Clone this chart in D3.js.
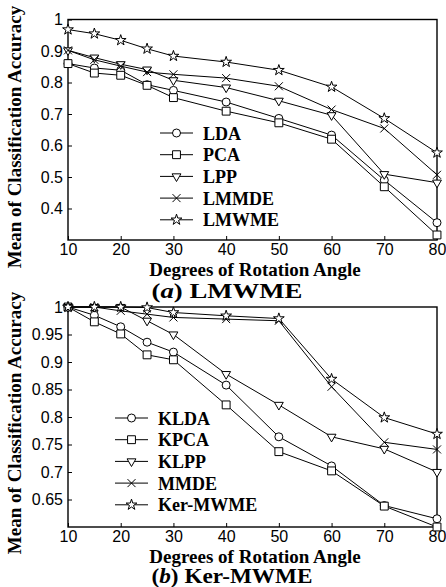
<!DOCTYPE html>
<html>
<head>
<meta charset="utf-8">
<script src="https://cdn.jsdelivr.net/npm/d3@7/dist/d3.min.js"></script>
<style>
  body { margin: 0; background: #fff; }
  svg { display: block; }
</style>
</head>
<body>
<svg width="446" height="587"></svg>
<script>
// rotation angles shared by both panels
var angles = [10, 15, 20, 25, 30, 40, 50, 60, 70, 80];
var xTicks = [10, 20, 30, 40, 50, 60, 70, 80];

// panel (a)
var namesA = ['LDA', 'PCA', 'LPP', 'LMMDE', 'LMWME'];
var lda   = [0.860, 0.846, 0.839, 0.793, 0.775, 0.738, 0.686, 0.633, 0.490, 0.355];
var pca   = [0.860, 0.830, 0.823, 0.791, 0.752, 0.709, 0.672, 0.620, 0.469, 0.316];
var lpp   = [0.902, 0.879, 0.858, 0.841, 0.807, 0.784, 0.742, 0.696, 0.509, 0.482];
var lmmde = [0.902, 0.872, 0.852, 0.833, 0.826, 0.814, 0.788, 0.714, 0.654, 0.507];
var lmwme = [0.968, 0.955, 0.934, 0.907, 0.884, 0.865, 0.839, 0.786, 0.686, 0.577];
var yTicksA = [0.4, 0.5, 0.6, 0.7, 0.8, 0.9, 1];
var yLabelsA = ['0.4', '0.5', '0.6', '0.7', '0.8', '0.9', '1'];

// panel (b)
var namesB = ['KLDA', 'KPCA', 'KLPP', 'MMDE', 'Ker-MWME'];
var klda    = [1.000, 0.985, 0.964, 0.936, 0.918, 0.858, 0.764, 0.711, 0.639, 0.615];
var kpca    = [1.000, 0.973, 0.951, 0.913, 0.904, 0.822, 0.737, 0.702, 0.638, 0.600];
var klpp    = [1.000, 1.000, 1.000, 0.975, 0.950, 0.878, 0.822, 0.764, 0.742, 0.700];
var mmde    = [1.000, 1.000, 0.993, 0.987, 0.981, 0.978, 0.975, 0.855, 0.754, 0.741];
var kermwme = [1.000, 1.000, 1.000, 0.999, 0.990, 0.984, 0.979, 0.869, 0.799, 0.769];
var yTicksB = [0.65, 0.7, 0.75, 0.8, 0.85, 0.9, 0.95, 1];
var yLabelsB = ['0.65', '0.7', '0.75', '0.8', '0.85', '0.9', '0.95', '1'];

var markers = ['circle', 'square', 'triangle', 'cross', 'star'];

var svg = d3.select('svg');
var serif = '"Liberation Serif", "Times New Roman", serif';
var sans = '"Liberation Sans", Arial, sans-serif';

function marker(sel, type) {
  if (type == 'circle') {
    sel.append('circle').attr('r', 4);
  } else if (type == 'square') {
    sel.append('path').attr('d', d3.symbol(d3.symbolSquare, 62)());
  } else if (type == 'triangle') {
    sel.append('path').attr('d', d3.symbol(d3.symbolTriangle, 34)()).attr('transform', 'rotate(180)');
  } else if (type == 'cross') {
    sel.append('path').attr('d', 'M-4,-4L4,4M-4,4L4,-4');
  } else {
    sel.append('path').attr('d', d3.symbol(d3.symbolStar, 36)());
  }
}

function drawPanel(p) {
  var x = d3.scaleLinear().domain([10, 80]).range([68, 437]);
  var y = d3.scaleLinear().domain(p.ydom).range([p.bottom, p.top]);
  var g = svg.append('g');

  // frame
  g.append('rect')
    .attr('x', x(10)).attr('y', y(p.ydom[1]))
    .attr('width', x(80) - x(10)).attr('height', y(p.ydom[0]) - y(p.ydom[1]))
    .attr('fill', 'none').attr('stroke', '#000').attr('stroke-width', 1.4);

  // x axis
  var xa = g.append('g')
    .attr('transform', 'translate(0,' + y(p.ydom[0]) + ')')
    .call(d3.axisBottom(x).tickValues(xTicks).tickSizeInner(-4).tickSizeOuter(0).tickPadding(4));
  xa.select('.domain').remove();
  xa.selectAll('text').attr('font-family', sans).attr('font-size', 16).attr('fill', '#000');

  // y axis
  var ya = g.append('g')
    .attr('transform', 'translate(' + x(10) + ',0)')
    .call(d3.axisLeft(y).tickValues(p.yticks).tickFormat(function(d, i) { return p.ylabels[i]; })
      .tickSizeInner(-4).tickSizeOuter(0).tickPadding(5));
  ya.select('.domain').remove();
  ya.selectAll('text').attr('font-family', sans).attr('font-size', 16).attr('fill', '#000');

  var line = d3.line()
    .x(function(d, i) { return x(angles[i]); })
    .y(function(d) { return y(d); });

  p.series.forEach(function(s, k) {
    g.append('path').attr('d', line(s))
      .attr('fill', 'none').attr('stroke', '#000').attr('stroke-width', 1);
    s.forEach(function(v, i) {
      var m = g.append('g')
        .attr('transform', 'translate(' + x(angles[i]) + ',' + y(v) + ')')
        .attr('fill', '#fff').attr('stroke', '#000').attr('stroke-width', 1);
      marker(m, markers[k]);
    });
  });

  // legend
  var lg = g.append('g');
  p.names.forEach(function(n, k) {
    var ly = p.legY + k * 21.7;
    lg.append('line')
      .attr('x1', p.legX).attr('x2', p.legX + 33)
      .attr('y1', ly).attr('y2', ly)
      .attr('stroke', '#000');
    var m = lg.append('g')
      .attr('transform', 'translate(' + (p.legX + 16.5) + ',' + ly + ')')
      .attr('fill', '#fff').attr('stroke', '#000');
    marker(m, markers[k]);
    lg.append('text')
      .attr('x', p.legX + 43).attr('y', ly + 6.5)
      .attr('font-family', serif).attr('font-weight', 'bold').attr('font-size', 18)
      .text(n);
  });

  // axis titles
  g.append('text')
    .attr('x', 255).attr('y', p.bottom + 36)
    .attr('text-anchor', 'middle')
    .attr('font-family', serif).attr('font-weight', 'bold').attr('font-size', 19)
    .text('Degrees of Rotation Angle');

  var cap = g.append('text')
    .attr('x', p.capX).attr('y', p.bottom + p.capDy)
    .attr('text-anchor', 'middle')
    .attr('textLength', p.capW).attr('lengthAdjust', 'spacingAndGlyphs')
    .attr('font-family', serif).attr('font-weight', 'bold').attr('font-size', 20);
  cap.append('tspan').text('(');
  cap.append('tspan').attr('font-style', 'italic').text(p.letter);
  cap.append('tspan').text(') ' + p.caption);

  g.append('text')
    .attr('transform', 'translate(21,' + p.ymid + ') rotate(-90)')
    .attr('text-anchor', 'middle')
    .attr('font-family', serif).attr('font-weight', 'bold').attr('font-size', 19)
    .text('Mean of Classification Accuracy');
}

drawPanel({
  ydom: [0.3, 1], top: 19.5, bottom: 240,
  yticks: yTicksA, ylabels: yLabelsA,
  series: [lda, pca, lpp, lmmde, lmwme], names: namesA,
  legX: 160, legY: 133, capX: 227, capW: 151, capDy: 58,
  letter: 'a', caption: 'LMWME', ymid: 137
});

drawPanel({
  ydom: [0.6, 1], top: 307, bottom: 527,
  yticks: yTicksB, ylabels: yLabelsB,
  series: [klda, kpca, klpp, mmde, kermwme], names: namesB,
  legX: 115, legY: 418, capX: 232, capW: 161, capDy: 56,
  letter: 'b', caption: 'Ker-MWME', ymid: 423
});
</script>
</body>
</html>
